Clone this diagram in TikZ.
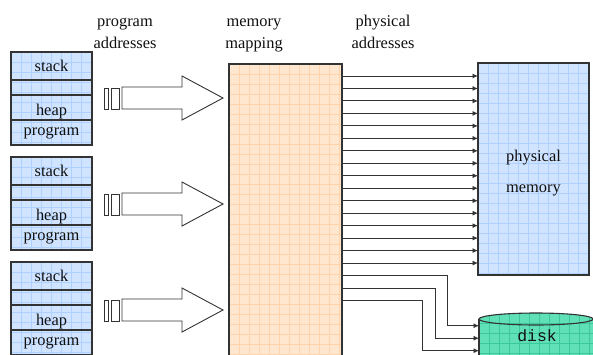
\documentclass[tikz,border=0pt]{standalone}
\usepackage{fontspec}
\setmainfont{Liberation Serif}
\newfontfamily\dserif{Liberation Serif}
\newfontfamily\dmono{Liberation Mono}
\usetikzlibrary{arrows.meta}
\definecolor{edge}{HTML}{333333}
\definecolor{txt}{HTML}{101010}
\definecolor{blueF}{HTML}{D0E4FF}
\definecolor{blueG}{HTML}{AFD1FF}
\definecolor{orangeF}{HTML}{FFE6CE}
\definecolor{orangeG}{HTML}{FFD4AC}
\definecolor{greenF}{HTML}{60E0B6}
\definecolor{greenG}{HTML}{3CC899}
\tikzset{
  boxfill/.style={draw=none,inner sep=0pt,outer sep=0pt,anchor=north west},
  gridline/.style={line width=0.6pt},
  boxedge/.style={draw=edge,line width=1.1pt},
  lbl/.style={font=\dserif\fontsize{16.4}{20}\selectfont,text=txt,inner sep=0pt,anchor=base},
  bigarrow/.style={draw=edge,line width=0.9pt,fill=white,line join=miter},
  conn/.style={draw=edge,line width=0.9pt,-{Latex[length=5.5pt,width=5pt]}},
  divider/.style={draw=edge,line width=1.1pt},
}
% #1 name, #2 x, #3 y, #4 w, #5 h, #6 fill, #7 grid colour
\newcommand\gbox[7]{%
  \node[boxfill,fill=#6,minimum width=#4,minimum height=#5] (#1) at (#2,#3) {};
  \begin{scope}
    \clip (#1.south west) rectangle (#1.north east);
    \begin{scope}[shift={(#2,#3)}]
      \draw[#7,gridline,step=10pt] (0pt,-600pt) grid (300pt,0pt);
    \end{scope}
  \end{scope}}
\begin{document}
\begin{tikzpicture}[x=1pt,y=-1pt]
\useasboundingbox (0,0) rectangle (593,354);

% headers
\node[lbl] (h1a) at (125,26.5) {program};
\node[lbl] (h1b) at (125,48) {addresses};
\node[lbl] (h2a) at (254,26.5) {memory};
\node[lbl] (h2b) at (254,48) {mapping};
\node[lbl] (h3a) at (383,26.5) {physical};
\node[lbl] (h3b) at (383,48) {addresses};

% program address spaces
\foreach \k/\yy in {1/52,2/157,3/262}{
  \gbox{col\k}{11}{\yy}{81}{93}{blueF}{blueG}
  \draw[boxedge] (col\k.south west) rectangle (col\k.north east);
  \draw[divider] (11,\yy+28) -- (92,\yy+28);
  \draw[divider] (11,\yy+43) -- (92,\yy+43);
  \draw[divider] (11,\yy+68) -- (92,\yy+68);
  \node[lbl] (stack\k) at (51.5,\yy+19) {stack};
  \node[lbl] (heap\k) at (51.5,\yy+63) {heap};
  \node[lbl] (prog\k) at (51.5,\yy+83.5) {program};
}

% big arrows
\foreach \k/\c in {1/98,2/204,3/310}{
  \draw[bigarrow] (104,\c-10) rectangle (108,\c+11);
  \draw[bigarrow] (111,\c-10) rectangle (119,\c+11);
  \draw[bigarrow] (122,\c-11) -- (182,\c-11) -- (182,\c-22) -- (223,\c)
     -- (182,\c+22) -- (182,\c+11) -- (122,\c+11) -- cycle;
}

% memory mapping
\gbox{map}{229}{64}{113}{310}{orangeF}{orangeG}
\draw[boxedge] (map.south west) rectangle (map.north east);

% physical memory
\gbox{phys}{478}{63}{111}{212}{blueF}{blueG}
\draw[boxedge] (phys.south west) rectangle (phys.north east);
\node[lbl] (pm1) at (533.5,161) {physical};
\node[lbl] (pm2) at (533.5,192) {memory};

% disk
\gbox{disk}{479}{313}{114}{56}{greenF}{greenG}
\fill[white] (479,312) rectangle (593,319);
\begin{scope}
  \clip (536,319) ellipse (57 and 6);
  \fill[greenF] (479,312) rectangle (593,326);
  \begin{scope}[shift={(479,313)}]
    \draw[greenG,gridline,step=10pt] (0pt,-60pt) grid (120pt,0pt);
  \end{scope}
\end{scope}
\draw[boxedge] (disk.west |- 0,319) -- (disk.south west);
\draw[boxedge] (536,319) ellipse (57 and 6);
\node[lbl,font=\dmono\fontsize{16.4}{20}\selectfont] (disklbl) at (537,341.5) {disk};

% connectors to physical memory
\foreach \i in {0,...,15}{
  \pgfmathsetmacro{\yy}{76+12.47*\i}
  \draw[conn] (map.east |- 0,\yy) -- (phys.west |- 0,\yy);
}
% connectors to disk
\foreach \i/\xt/\yd in {16/447/325.7,17/435/338.2,18/422/350.7}{
  \pgfmathsetmacro{\yy}{76+12.47*\i}
  \draw[conn] (map.east |- 0,\yy) -- (\xt,\yy) -- (\xt,\yd) -- (disk.west |- 0,\yd);
}
\end{tikzpicture}
\end{document}
